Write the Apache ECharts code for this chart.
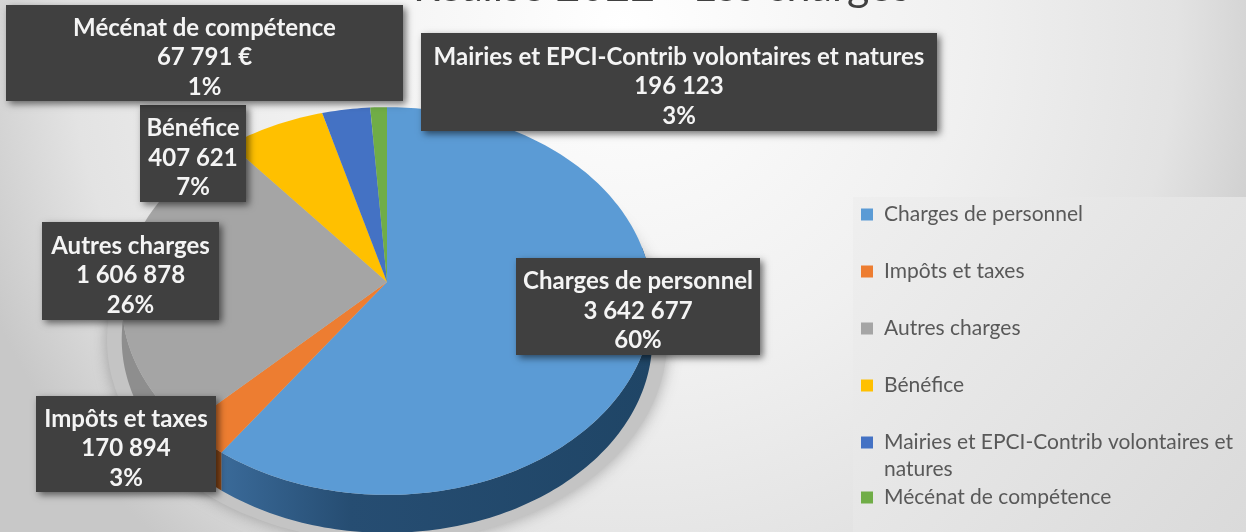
<!DOCTYPE html>
<html>
<head>
<meta charset="utf-8">
<style>
html,body{margin:0;padding:0;overflow:hidden;background:#eee}
#chart{width:1246px;height:532px;filter:blur(0.6px)}
</style>
<script src="https://cdn.jsdelivr.net/npm/echarts@6/dist/echarts.min.js"></script>
</head>
<body>
<div id="chart"></div>
<script>
var categories = ["Charges de personnel","Impôts et taxes","Autres charges","Bénéfice","Mairies et EPCI-Contrib volontaires et natures","Mécénat de compétence"];
var values = [3642677,170894,1606878,407621,196123,67791];
var valueLabels = ["3 642 677","170 894","1 606 878","407 621","196 123","67 791 €"];
var percentLabels = ["60%","3%","26%","7%","3%","1%"];
var colors = ["#5b9bd5","#ed7d31","#a5a5a5","#ffc000","#4472c4","#70ad47"];
var blueSide = {type:'linear',x:0,y:0,x2:1,y2:0,colorStops:[{offset:0,color:'#3a6a99'},{offset:0.3,color:'#264d72'},{offset:1,color:'#1f4566'}]};
var sideColors = [blueSide,"#8f4a18","#8e8e8e","#a87f00","#2c4a80","#4a7230"];
// label boxes x0,y0,x1,y1
var boxes = [[516,258,760,355],[36,396,216,492],[42,222,219,320],[140,105,246,202],[421,33,937,131],[6,5,403,101]];
var legendTops = [201,258,315,372,402,484];
var legendText = ["Charges de personnel","Impôts et taxes","Autres charges","Bénéfice","\nMairies et EPCI-Contrib volontaires et\nnatures","Mécénat de compétence"];

var cx = 387, cy = 282, kx = 264, ky = 192, persp = 0.098, depth = 38;
var total = values.reduce(function(a,b){return a+b},0);

// circle in the plane of the pie, projected with a bit of perspective
function project(ang){
  var u = Math.sin(ang), v = -Math.cos(ang);
  var s = 1/(1-persp*v);
  return [cx+kx*u*s, cy+ky*v*s];
}
function arcPoints(a0,a1){
  var n = Math.max(2,Math.ceil((a1-a0)/0.02)), pts = [];
  for(var i=0;i<=n;i++) pts.push(project(a0+(a1-a0)*i/n));
  return pts;
}
function startAngle(idx){
  var sum = 0;
  for(var i=0;i<idx;i++) sum += values[i];
  return sum/total*Math.PI*2;
}

function renderSlice(params,api){
  var i = params.seriesIndex;
  var a0 = startAngle(i), a1 = a0+api.value(0)/total*Math.PI*2;
  var top = arcPoints(a0,a1);
  var children = [];
  // side wall, only the part of the rim that faces the viewer
  var sa0 = Math.max(a0,Math.PI*0.44), sa1 = Math.min(a1,Math.PI*1.56);
  if(sa1>sa0){
    var rim = arcPoints(sa0,sa1);
    var low = rim.map(function(p){return [p[0],p[1]+depth]}).reverse();
    children.push({type:'polygon',z2:1,shape:{points:rim.concat(low)},style:{fill:sideColors[i]}});
  }
  children.push({type:'polygon',z2:2,shape:{points:[[cx,cy]].concat(top)},style:{fill:colors[i]}});
  return {type:'group',children:children};
}

var series = categories.map(function(name,i){
  return {
    name:name,type:'custom',coordinateSystem:'none',silent:true,z:3,
    itemStyle:{color:colors[i]},
    data:[[values[i]]],
    renderItem:renderSlice
  };
});

// dark label boxes
series.push({
  type:'custom',coordinateSystem:'none',silent:true,z:6,
  data:values.map(function(v,i){return [i]}),
  renderItem:function(params,api){
    var i = api.value(0), b = boxes[i];
    return {type:'group',children:[
      {type:'rect',shape:{x:b[0],y:b[1],width:b[2]-b[0],height:b[3]-b[1]},
       style:{fill:'#404040',shadowBlur:7,shadowColor:'rgba(0,0,0,0.55)',shadowOffsetX:3,shadowOffsetY:3}},
      {type:'text',style:{
        x:(b[0]+b[2])/2,y:(b[1]+b[3])/2+4.5,align:'center',verticalAlign:'middle',
        text:categories[i]+"\n"+valueLabels[i]+"\n"+percentLabels[i],
        fill:'#f4f4f4',font:'bold 24px Lato',lineHeight:29.5
      }}
    ]};
  }
});

var legends = categories.map(function(name,i){
  return {
    show:true,left:861,top:legendTops[i],orient:'vertical',padding:0,
    data:[name],icon:'rect',itemWidth:12,itemHeight:12,itemGap:0,selectedMode:false,
    formatter:function(){return legendText[i]},
    textStyle:{color:'#595959',fontFamily:'Lato',fontSize:21,lineHeight:27,padding:[0,0,0,6]}
  };
});

var chart = echarts.init(document.getElementById('chart'),null,{renderer:'canvas'});
chart.setOption({
  animation:false,
  backgroundColor:{type:'radial',x:0.5,y:0.05,r:1.3,colorStops:[{offset:0,color:'#ffffff'},{offset:0.5,color:'#f0f0f0'},{offset:0.8,color:'#e3e3e3'},{offset:1,color:'#c8c8c8'}]},
  title:{text:'Réalisé 2022 - Les charges',left:408,top:-39,textStyle:{fontFamily:'Lato',fontSize:43,fontWeight:'normal',color:'#404040'}},
  legend:legends,
  graphic:[
    // lighter panel behind the legend
    {type:'rect',z:0,shape:{x:853,y:197,width:393,height:335},
     style:{fill:{type:'linear',x:0,y:0,x2:1,y2:1,colorStops:[{offset:0,color:'#efefef'},{offset:1,color:'#dadada'}]}}},
    // soft shadow under the pie
    {type:'ellipse',z:1,shape:{cx:cx,cy:340,rx:kx+16,ry:ky+10},
     style:{fill:'#c4c4c4',shadowBlur:16,shadowColor:'rgba(130,130,130,0.7)'}}
  ],
  series:series
});
</script>
</body>
</html>
